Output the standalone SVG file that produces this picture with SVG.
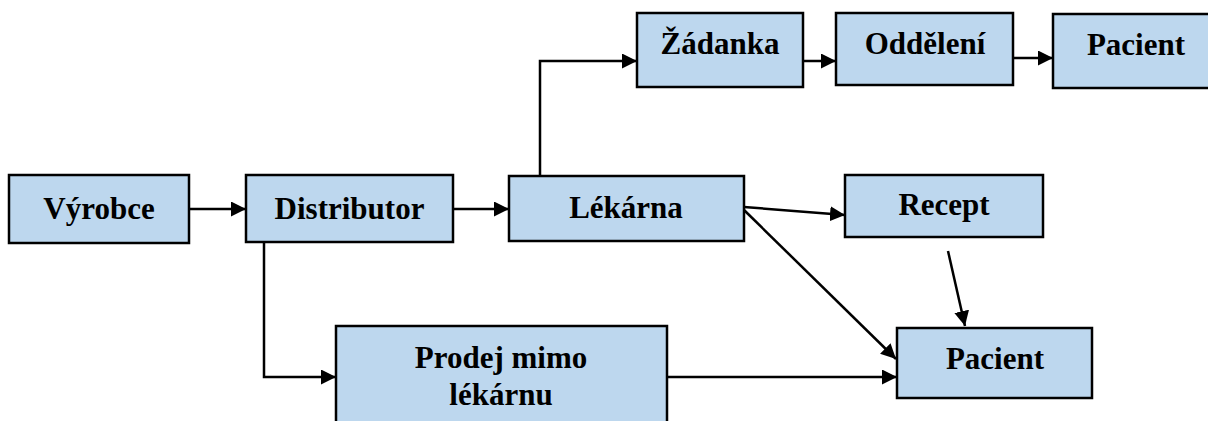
<svg xmlns="http://www.w3.org/2000/svg" width="1208" height="421" viewBox="0 0 1208 421">
<style>
.box{fill:#BDD7EE;stroke:#000;stroke-width:2.5}
.t{font-family:"Liberation Serif","Times New Roman",serif;font-weight:bold;font-size:31px;fill:#000;text-anchor:middle}
.c{fill:none;stroke:#000;stroke-width:2.5}
</style>
<defs>
<marker id="a" viewBox="0 0 10 10" refX="10" refY="5" markerWidth="6" markerHeight="6" markerUnits="strokeWidth" orient="auto">
<path d="M0,0 L10,5 L0,10 Z" fill="#000"/>
</marker>
</defs>
<rect width="1208" height="421" fill="#fff"/>
<g id="connectors">
<line class="c" x1="189" y1="209" x2="246" y2="209" marker-end="url(#a)"/>
<line class="c" x1="453" y1="209" x2="509" y2="209" marker-end="url(#a)"/>
<polyline class="c" points="540,176 540,61 637,61" marker-end="url(#a)"/>
<line class="c" x1="803" y1="61" x2="836" y2="61" marker-end="url(#a)"/>
<line class="c" x1="1013" y1="58" x2="1053" y2="58" marker-end="url(#a)"/>
<line class="c" x1="744" y1="207" x2="845" y2="215" marker-end="url(#a)"/>
<line class="c" x1="744" y1="210" x2="896" y2="359" marker-end="url(#a)"/>
<line class="c" x1="948" y1="251" x2="965" y2="326" marker-end="url(#a)"/>
<polyline class="c" points="264,242 264,377 336,377" marker-end="url(#a)"/>
<line class="c" x1="667" y1="377" x2="897" y2="377" marker-end="url(#a)"/>
</g>
<g id="vyrobce"><rect class="box" x="9" y="175" width="180" height="68"/><text class="t" x="99" y="219">Výrobce</text></g>
<g id="distributor"><rect class="box" x="246" y="175" width="207" height="67"/><text class="t" x="349.5" y="219">Distributor</text></g>
<g id="lekarna"><rect class="box" x="509" y="176" width="235" height="65"/><text class="t" x="626" y="218">Lékárna</text></g>
<g id="recept"><rect class="box" x="845" y="175" width="198" height="62"/><text class="t" x="944" y="215">Recept</text></g>
<g id="zadanka"><rect class="box" x="637" y="13" width="166" height="74"/><text class="t" x="720" y="54">Žádanka</text></g>
<g id="oddeleni"><rect class="box" x="836" y="13" width="177" height="72"/><text class="t" x="925" y="54">Oddělení</text></g>
<g id="pacient1"><rect class="box" x="1053" y="14" width="170" height="74"/><text class="t" x="1136" y="55">Pacient</text></g>
<g id="pacient2"><rect class="box" x="897" y="328" width="195" height="70"/><text class="t" x="995" y="369">Pacient</text></g>
<g id="prodej"><rect class="box" x="336" y="326" width="331" height="110"/><text class="t" x="501" y="368">Prodej mimo</text><text class="t" x="501" y="405">lékárnu</text></g>
</svg>
